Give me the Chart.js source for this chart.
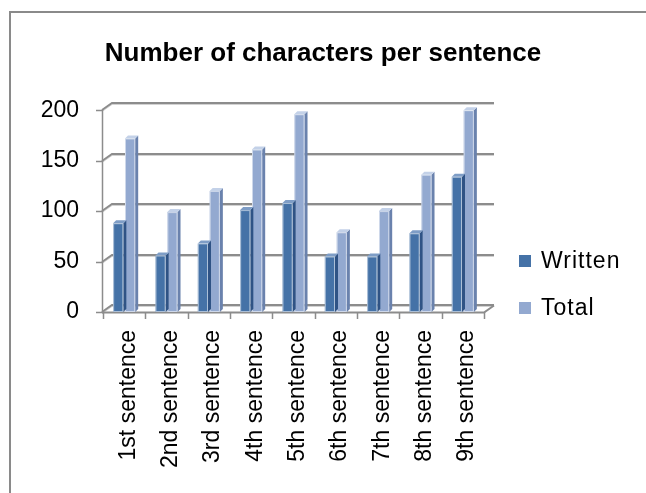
<!DOCTYPE html>
<html>
<head>
<meta charset="utf-8">
<script src="https://cdn.jsdelivr.net/npm/chart.js@4/dist/chart.umd.min.js"></script>
<style>
  html, body { margin: 0; padding: 0; background: #fff; }
  #c { display: block; }
</style>
</head>
<body>
<canvas id="c" width="646" height="493"></canvas>
<script>
// Chart data
const categories = ['1st sentence', '2nd sentence', '3rd sentence', '4th sentence', '5th sentence',
                    '6th sentence', '7th sentence', '8th sentence', '9th sentence'];
const writtenChars = [88, 56, 68, 101, 108, 55, 55, 78, 134];
const totalChars = [172, 99, 120, 161, 196, 79, 100, 136, 200];
const yTickValues = [0, 50, 100, 150, 200];
const seriesNames = ['Written', 'Total'];

const FONT = "'Liberation Sans', Arial, sans-serif";
const COLORS = [
  { front: '#4572a7', side: '#2f5385', top: '#7e9dc6' },
  { front: '#93a9d0', side: '#6a82ad', top: '#c3d1e8' }
];
const DEPTH_X = 10, DEPTH_Y = -7;  // back wall offset
const BAR_D = 3;                   // bar depth

// Outer chart border
const borderPlugin = {
  id: 'outerBorder',
  beforeDraw(chart) {
    const ctx = chart.ctx;
    ctx.save();
    ctx.fillStyle = '#fff';
    ctx.fillRect(0, 0, chart.width, chart.height);
    ctx.strokeStyle = '#8a8a8a';
    ctx.lineWidth = 2;
    ctx.strokeRect(10, 12, chart.width + 20, chart.height + 20);
    ctx.restore();
  }
};

// Walls, floor, axes and gridlines of the 3D frame
const framePlugin = {
  id: 'frame3d',
  beforeDatasetsDraw(chart) {
    const { ctx, chartArea: a, scales: { x, y } } = chart;
    const x0 = a.left - 1;
    const xr = a.right;
    ctx.save();
    // back-wall gridlines with slanted side-wall segment
    yTickValues.forEach(v => {
      const py = Math.round(y.getPixelForValue(v));
      ctx.beginPath();
      ctx.moveTo(x0, py + 1.5);
      ctx.lineTo(x0 + DEPTH_X, py + DEPTH_Y + 1.5);
      ctx.lineTo(xr + DEPTH_X, py + DEPTH_Y + 1.5);
      ctx.strokeStyle = '#d2d2d2';
      ctx.lineWidth = 1;
      ctx.stroke();
      ctx.beginPath();
      ctx.moveTo(x0, py);
      ctx.lineTo(x0 + DEPTH_X, py + DEPTH_Y);
      ctx.lineTo(xr + DEPTH_X, py + DEPTH_Y);
      ctx.strokeStyle = '#8c8c8c';
      ctx.lineWidth = 2;
      ctx.stroke();
    });
    // front floor edge and right floor edge
    const y0 = Math.round(y.getPixelForValue(0));
    ctx.beginPath();
    ctx.moveTo(x0, y0 + 0.5);
    ctx.lineTo(xr, y0 + 0.5);
    ctx.lineTo(xr + DEPTH_X, y0 + DEPTH_Y + 0.5);
    ctx.strokeStyle = '#8c8c8c';
    ctx.lineWidth = 2;
    ctx.stroke();
    // value axis and its tick marks
    const yTop = Math.round(y.getPixelForValue(200));
    ctx.beginPath();
    ctx.moveTo(x0 + 0.5, yTop);
    ctx.lineTo(x0 + 0.5, y0 + 1);
    yTickValues.forEach(v => {
      const py = Math.round(y.getPixelForValue(v)) + 0.5;
      ctx.moveTo(x0 - 6, py);
      ctx.lineTo(x0 + 0.5, py);
    });
    // category boundary tick marks
    for (let i = 0; i <= categories.length; i++) {
      const px = Math.round(x.getPixelForValue(i - 0.5)) + 0.5;
      ctx.moveTo(px, y0);
      ctx.lineTo(px, y0 + 7);
    }
    ctx.strokeStyle = '#8c8c8c';
    ctx.lineWidth = 1.5;
    ctx.stroke();
    ctx.restore();
  },
  // side and top faces of each column
  afterDatasetDraw(chart, args) {
    const ctx = chart.ctx;
    const c = COLORS[args.index];
    ctx.save();
    args.meta.data.forEach(el => {
      const { x, y, width, base } = el.getProps(['x', 'y', 'width', 'base'], true);
      const l = x - width / 2, r = x + width / 2;
      ctx.fillStyle = c.side;
      ctx.beginPath();
      ctx.moveTo(r, y);
      ctx.lineTo(r + BAR_D, y - BAR_D);
      ctx.lineTo(r + BAR_D, base - BAR_D);
      ctx.lineTo(r, base);
      ctx.closePath();
      ctx.fill();
      ctx.fillStyle = c.top;
      ctx.beginPath();
      ctx.moveTo(l, y);
      ctx.lineTo(l + BAR_D, y - BAR_D);
      ctx.lineTo(r + BAR_D, y - BAR_D);
      ctx.lineTo(r, y);
      ctx.closePath();
      ctx.fill();
      // light edge along the front face
      ctx.strokeStyle = 'rgba(255,255,255,0.55)';
      ctx.lineWidth = 1;
      ctx.strokeRect(l + 0.5, y + 0.5, width - 1, base - y - 1);
    });
    ctx.restore();
  }
};

// Legend at the right
const legendPlugin = {
  id: 'sideLegend',
  afterDraw(chart) {
    const ctx = chart.ctx;
    const rows = [261, 308];
    ctx.save();
    ctx.font = `23px ${FONT}`;
    ctx.letterSpacing = '1px';
    ctx.textBaseline = 'middle';
    ctx.textAlign = 'left';
    chart.data.datasets.forEach((ds, i) => {
      const cy = rows[i];
      ctx.fillStyle = ds.backgroundColor;
      ctx.fillRect(519, cy - 6, 12, 12);
      ctx.fillStyle = '#000';
      ctx.fillText(ds.label, 541, cy + 1);
    });
    ctx.restore();
  }
};

new Chart(document.getElementById('c'), {
  type: 'bar',
  data: {
    labels: categories,
    datasets: [
      { label: seriesNames[0], data: writtenChars, backgroundColor: COLORS[0].front, borderWidth: 0 },
      { label: seriesNames[1], data: totalChars, backgroundColor: COLORS[1].front, borderWidth: 0 }
    ]
  },
  options: {
    responsive: false,
    animation: false,
    devicePixelRatio: 1,
    categoryPercentage: 0.56,
    barPercentage: 0.86,
    layout: { padding: 0 },
    plugins: {
      legend: { display: false },
      tooltip: { enabled: false },
      title: {
        display: true,
        text: 'Number of characters per sentence',
        color: '#000',
        font: { family: FONT, size: 26, weight: 'bold', lineHeight: 1.2 },
        padding: { top: 38, bottom: 41 }
      }
    },
    scales: {
      y: {
        min: 0,
        max: 200,
        afterBuildTicks(s) { s.ticks = yTickValues.map(v => ({ value: v })); },
        afterFit(s) { s.width = 103; },
        grid: { display: false, drawTicks: false },
        border: { display: false },
        ticks: { color: '#000', padding: 24, font: { family: FONT, size: 23 } }
      },
      // empty band on the right that holds the legend
      legendBand: {
        position: 'right',
        min: 0,
        max: 200,
        afterFit(s) { s.width = 162; },
        grid: { display: false, drawTicks: false },
        border: { display: false },
        ticks: { display: false }
      },
      x: {
        afterFit(s) { s.height = 181; },
        grid: { display: false, drawTicks: false },
        border: { display: false },
        ticks: {
          color: '#000',
          autoSkip: false,
          minRotation: 90,
          maxRotation: 90,
          padding: 18,
          labelOffset: 4,
          font: { family: FONT, size: 23 }
        }
      }
    }
  },
  plugins: [borderPlugin, framePlugin, legendPlugin]
});
</script>
</body>
</html>
